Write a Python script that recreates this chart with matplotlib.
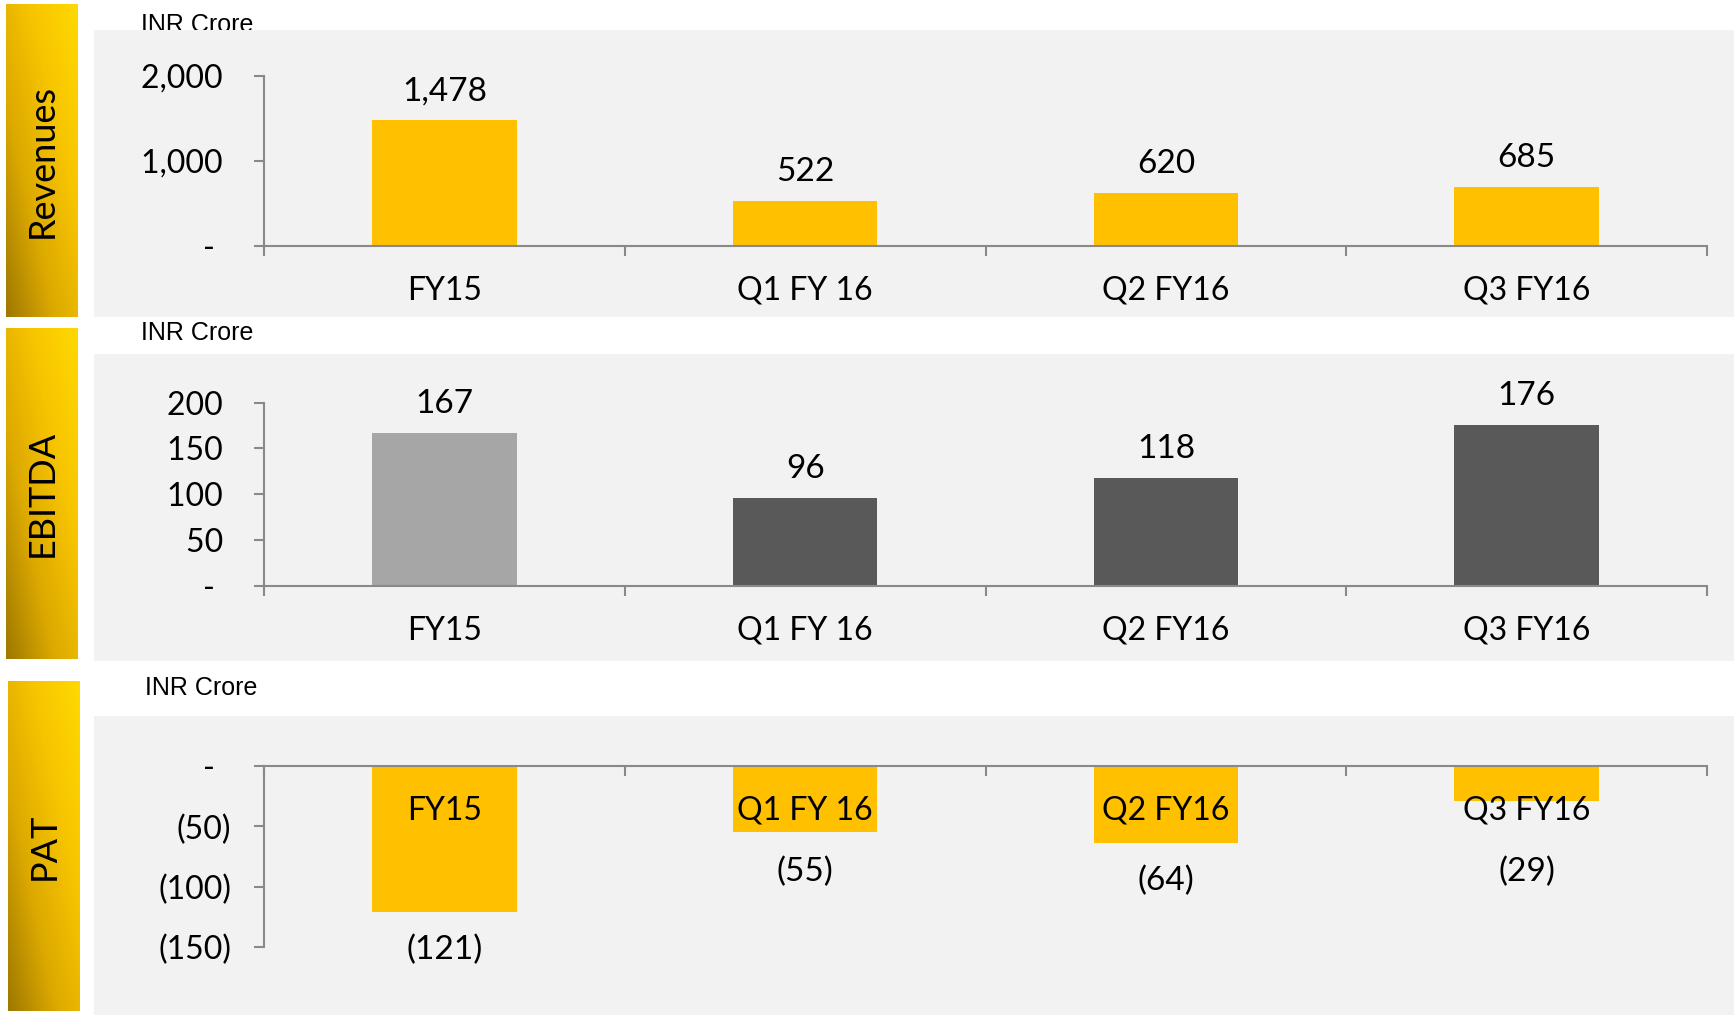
import numpy as np
import matplotlib
matplotlib.use("Agg")
import matplotlib.pyplot as plt
from matplotlib.patches import Rectangle
from matplotlib.ticker import FixedLocator
from matplotlib.colors import LinearSegmentedColormap

# data
categories = ["FY15", "Q1 FY 16", "Q2 FY16", "Q3 FY16"]
revenues = [1478, 522, 620, 685]
ebitda = [167, 96, 118, 176]
pat = [-121, -55, -64, -29]

rev_ticks = [0, 1000, 2000]
rev_tick_labels = ["-  ", "1,000 ", "2,000 "]
ebitda_ticks = [0, 50, 100, 150, 200]
ebitda_tick_labels = ["-  ", "50 ", "100 ", "150 ", "200 "]
pat_ticks = [-150, -100, -50, 0]
pat_tick_labels = ["(150)", "(100)", "(50)", "-  "]

section_titles = ["Revenues", "EBITDA", "PAT"]
unit_label = "INR Crore"

W, H = 1734, 1015
FONT = "Lato"
ARIAL = "Liberation Sans"
GOLD = "#ffc000"
AXIS_GREY = "#898989"
PANEL = "#f2f2f2"
EBITDA_COLORS = ["#a6a6a6", "#595959", "#595959", "#595959"]

plt.rcParams["font.family"] = FONT

fig = plt.figure(figsize=(W / 100, H / 100), dpi=100)


def px_axes(left, top, right, bottom):
    return fig.add_axes([left / W, 1 - bottom / H, (right - left) / W, (bottom - top) / H])


def panel(left, top, right, bottom):
    fig.add_artist(Rectangle((left / W, 1 - bottom / H), (right - left) / W, (bottom - top) / H,
                             transform=fig.transFigure, facecolor=PANEL, edgecolor="none", zorder=-2))


gold_cmap = LinearSegmentedColormap.from_list(
    "gold", [(0.62, 0.47, 0.0), (0.86, 0.66, 0.0), (0.97, 0.77, 0.0), (1.0, 0.85, 0.0)])


def gold_label(left, top, right, bottom, text):
    ax = px_axes(left, top, right, bottom)
    xs = np.linspace(0, 1, 60)
    ys = np.linspace(0, 1, 260)
    X, Y = np.meshgrid(xs, ys)
    ax.imshow((X + Y) / 2, cmap=gold_cmap, aspect="auto", extent=(0, 1, 0, 1), origin="lower")
    ax.set_axis_off()
    ax.text(0.5, 0.5, text, rotation=90, ha="center", va="center", fontsize=26,
            family=FONT, color="black", transform=ax.transAxes)


def fmt(v):
    return f"({abs(v):,})" if v < 0 else f"{v:,}"


def chart(ax, values, colors, ticks, tick_labels, ylim):
    x = np.arange(len(categories))
    ax.bar(x, values, width=0.4, color=colors, zorder=1)
    ax.set_xlim(-0.5, len(categories) - 0.5)
    ax.set_ylim(*ylim)
    ax.patch.set_visible(False)
    for side in ["top", "right"]:
        ax.spines[side].set_visible(False)
    for side in ["left", "bottom"]:
        ax.spines[side].set_color(AXIS_GREY)
        ax.spines[side].set_linewidth(1.5)
    ax.spines["bottom"].set_position(("data", 0))
    ax.set_yticks(ticks)
    ax.set_yticklabels(tick_labels)
    ax.tick_params(axis="y", direction="out", length=7.2, width=1.5, color=AXIS_GREY,
                   pad=16.5, labelsize=23, labelcolor="black")
    ax.set_xticks([])
    ax.xaxis.set_minor_locator(FixedLocator(np.arange(len(categories) + 1) - 0.5))
    ax.tick_params(axis="x", which="minor", direction="out", length=7.2, width=1.5, color=AXIS_GREY)
    for i, (cat, v) in enumerate(zip(categories, values)):
        ax.annotate(cat, (i, 0), xytext=(0, -54), textcoords="offset pixels",
                    ha="center", va="baseline", fontsize=23, zorder=5)
        # negative labels are kept clear of the category captions under the axis
        anchor = v if v > 0 else min(v, -56)
        ax.annotate(fmt(v), (i, anchor), xytext=(0, 20 if v > 0 else -47), textcoords="offset pixels",
                    ha="center", va="baseline", fontsize=24, zorder=5)


# grey background panels
panel(94, 30, W, 317)
panel(94, 354, W, 661)
panel(94, 716, W, H)

# unit captions (the first one sits partly behind its panel)
fig.text(141 / W, 1 - 32 / H, unit_label, family=ARIAL, fontsize=18, va="baseline", zorder=-3)
fig.text(141 / W, 1 - 340 / H, unit_label, family=ARIAL, fontsize=18, va="baseline", zorder=-3)
fig.text(145 / W, 1 - 695 / H, unit_label, family=ARIAL, fontsize=18, va="baseline", zorder=-3)

# gold side labels
gold_label(6, 4, 78, 317, section_titles[0])
gold_label(6, 328, 78, 659, section_titles[1])
gold_label(8, 681, 80, 1011, section_titles[2])

ax1 = px_axes(264, 75.7, 1707, 245.7)
chart(ax1, revenues, GOLD, rev_ticks, rev_tick_labels, (0, 2000))

ax2 = px_axes(264, 402.7, 1707, 585.7)
chart(ax2, ebitda, EBITDA_COLORS, ebitda_ticks, ebitda_tick_labels, (0, 200))

ax3 = px_axes(264, 766, 1707, 947.3)
chart(ax3, pat, GOLD, pat_ticks, pat_tick_labels, (-150, 0))

fig.savefig("out.png", dpi=100)
